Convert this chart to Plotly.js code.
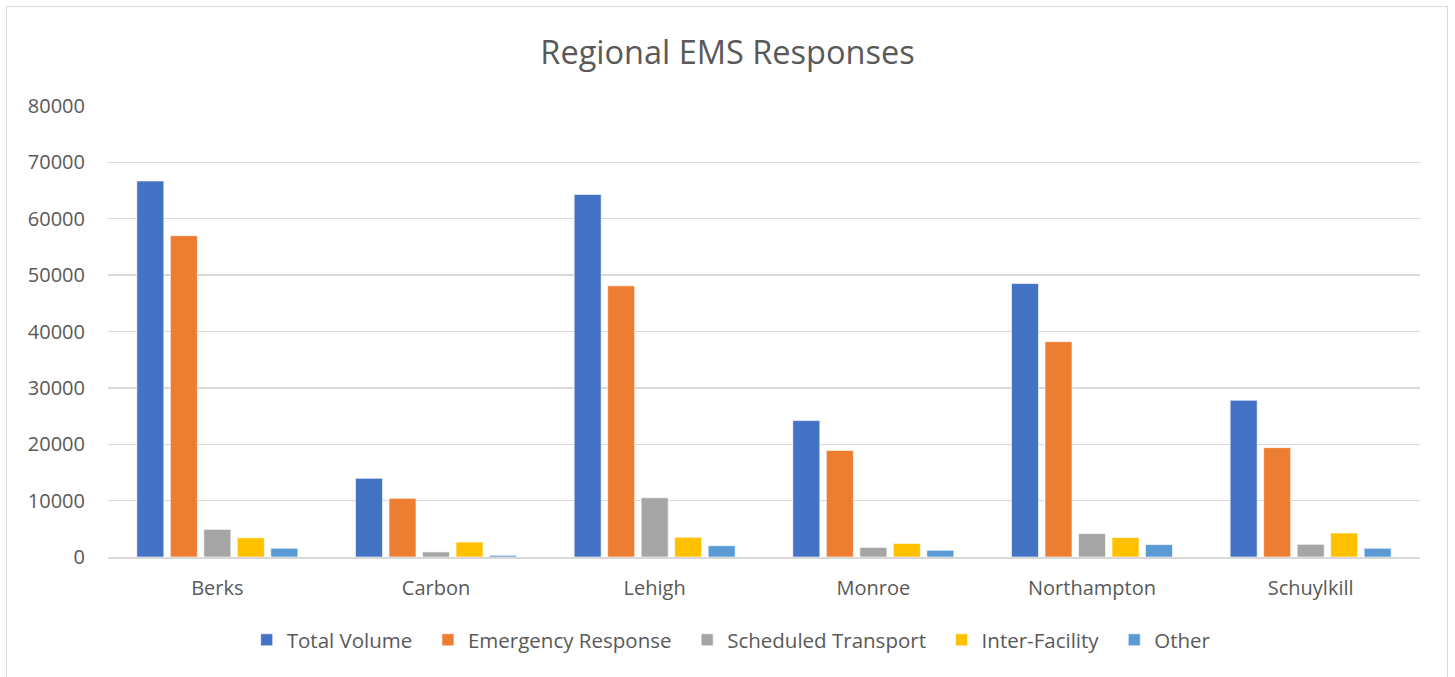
<!DOCTYPE html>
<html>
<head>
<meta charset="utf-8">
<script src="https://cdn.plot.ly/plotly-3.0.1.min.js"></script>
<style>
  html, body { margin: 0; padding: 0; background: #ffffff; }
  #frame { position: absolute; left: 6px; top: 6px; width: 1442px; height: 680px; border: 1px solid #d9d9d9; box-sizing: border-box; }
  #chart { position: absolute; left: 0; top: 0; width: 1455px; height: 677px; }
</style>
</head>
<body>
<div id="frame"></div>
<div id="chart"></div>
<script>
const categories = ["Berks", "Carbon", "Lehigh", "Monroe", "Northampton", "Schuylkill"];
const totalVolume = [66700, 13950, 64300, 24200, 48500, 27800];
const emergencyResponse = [57000, 10400, 48100, 18900, 38200, 19400];
const scheduledTransport = [4900, 900, 10500, 1700, 4150, 2250];
const interFacility = [3400, 2650, 3500, 2400, 3450, 4250];
const other = [1550, 300, 2000, 1200, 2200, 1550];
const seriesNames = ["Total Volume", "Emergency Response", "Scheduled Transport", "Inter-Facility", "Other"];
const seriesColors = ["#4472C4", "#ED7D31", "#A5A5A5", "#FFC000", "#5B9BD5"];
const seriesValues = [totalVolume, emergencyResponse, scheduledTransport, interFacility, other];
const yTicks = [0, 10000, 20000, 30000, 40000, 50000, 60000, 70000, 80000];

const FONT = "'Open Sans', 'Noto Sans', sans-serif";
const PAD = "\u00a0\u00a0";
const traces = seriesValues.map((vals, i) => ({
  type: "bar",
  name: seriesNames[i] + (i < seriesNames.length - 1 ? PAD : ""),
  x: categories,
  y: vals,
  marker: { color: seriesColors[i], line: { color: "rgba(255,255,255,0.6)", width: 1 } },
  hoverinfo: "x+y+name"
}));

const layout = {
  width: 1455,
  height: 677,
  paper_bgcolor: "rgba(0,0,0,0)",
  plot_bgcolor: "rgba(0,0,0,0)",
  margin: { l: 108, r: 35, t: 106, b: 120 },
  barmode: "group",
  bargap: 0.234,
  bargroupgap: 0.194,
  title: {
    text: "Regional EMS Responses",
    font: { family: FONT, size: 32.5, color: "#595959" },
    x: 0.5, xanchor: "center",
    y: 0.922, yanchor: "middle"
  },
  font: { family: FONT, color: "#595959", size: 20 },
  xaxis: {
    type: "category",
    showgrid: false,
    showline: true,
    linecolor: "#d9d9d9",
    linewidth: 1.5,
    ticks: "",
    tickfont: { family: FONT, size: 20, color: "#595959" },
    ticklabelstandoff: 12
  },
  yaxis: {
    range: [0, 80000],
    tickvals: yTicks,
    ticktext: yTicks.map(v => String(v)),
    showgrid: true,
    gridcolor: "#d9d9d9",
    gridwidth: 1.3,
    zeroline: false,
    showline: false,
    ticks: "",
    tickfont: { family: FONT, size: 20, color: "#595959" },
    ticklabelstandoff: 22
  },
  legend: {
    orientation: "h",
    x: 0.475, xanchor: "center",
    y: -0.184, yanchor: "middle",
    font: { family: FONT, size: 20.5, color: "#595959" },
    itemwidth: 30,
    traceorder: "normal"
  },
  showlegend: true
};

Plotly.newPlot("chart", traces, layout, { displayModeBar: false, staticPlot: true });
</script>
</body>
</html>
